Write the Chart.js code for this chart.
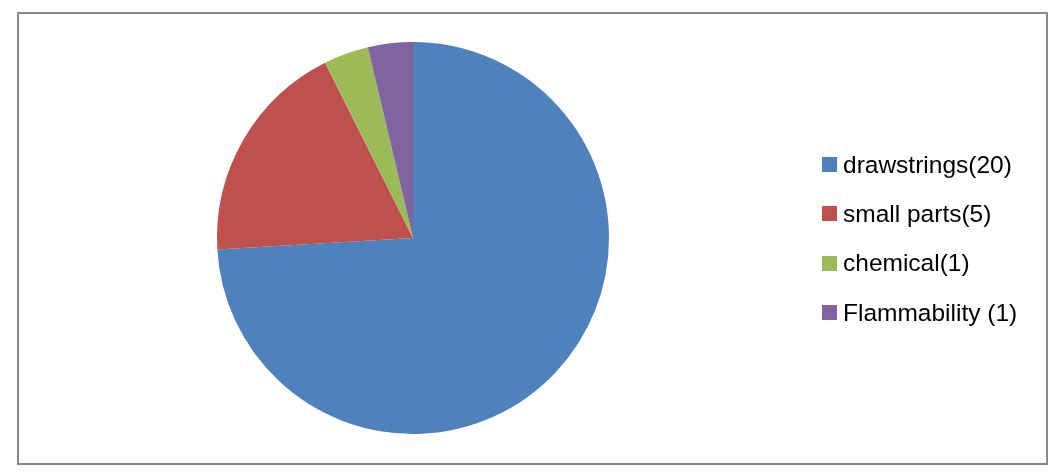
<!DOCTYPE html>
<html>
<head>
<meta charset="utf-8">
<script src="https://cdn.jsdelivr.net/npm/chart.js@4"></script>
<style>
  body { margin: 0; background: #fff; }
  #wrap { position: relative; width: 1063px; height: 475px; }
  #frame { position: absolute; left: 17px; top: 12px; width: 1027px; height: 449px; border: 2px solid #898989; }
  #pie { position: absolute; left: 0; top: 0; }
  #legend { position: absolute; left: 822px; top: 140px; font-family: "Liberation Sans", Arial, sans-serif; font-size: 24.5px; color: #000; }
  .item { height: 49.3px; display: flex; align-items: center; }
  .box { width: 15px; height: 15px; margin-right: 6px; }
</style>
</head>
<body>
<div id="wrap">
  <div id="frame"></div>
  <canvas id="pie" width="1063" height="475"></canvas>
  <div id="legend"></div>
</div>
<script>
// data
labels = ['drawstrings(20)', 'small parts(5)', 'chemical(1)', 'Flammability (1)']
values = [20, 5, 1, 1]
colors = ['#4F81BD', '#C0504D', '#9BBB59', '#8064A2']

canvas = document.querySelector('#pie')
const pieChart = new Chart(canvas, {
  type: 'pie',
  data: {
    labels: labels,
    datasets: [{
      data: values,
      backgroundColor: colors,
      borderWidth: 0
    }]
  },
  options: {
    responsive: false,
    animation: false,
    layout: { padding: { top: 42, bottom: 41, left: 0, right: 237 } },
    plugins: {
      legend: { display: false },
      tooltip: { enabled: false }
    }
  }
})

// legend built from the same arrays
legend = document.querySelector('#legend')
labels.forEach(function(label, i){
  item = document.createElement('div')
  item.className = 'item'
  box = document.createElement('span')
  box.className = 'box'
  box.style.background = colors[i]
  text = document.createElement('span')
  text.textContent = label
  item.appendChild(box)
  item.appendChild(text)
  legend.appendChild(item)
})
</script>
</body>
</html>
